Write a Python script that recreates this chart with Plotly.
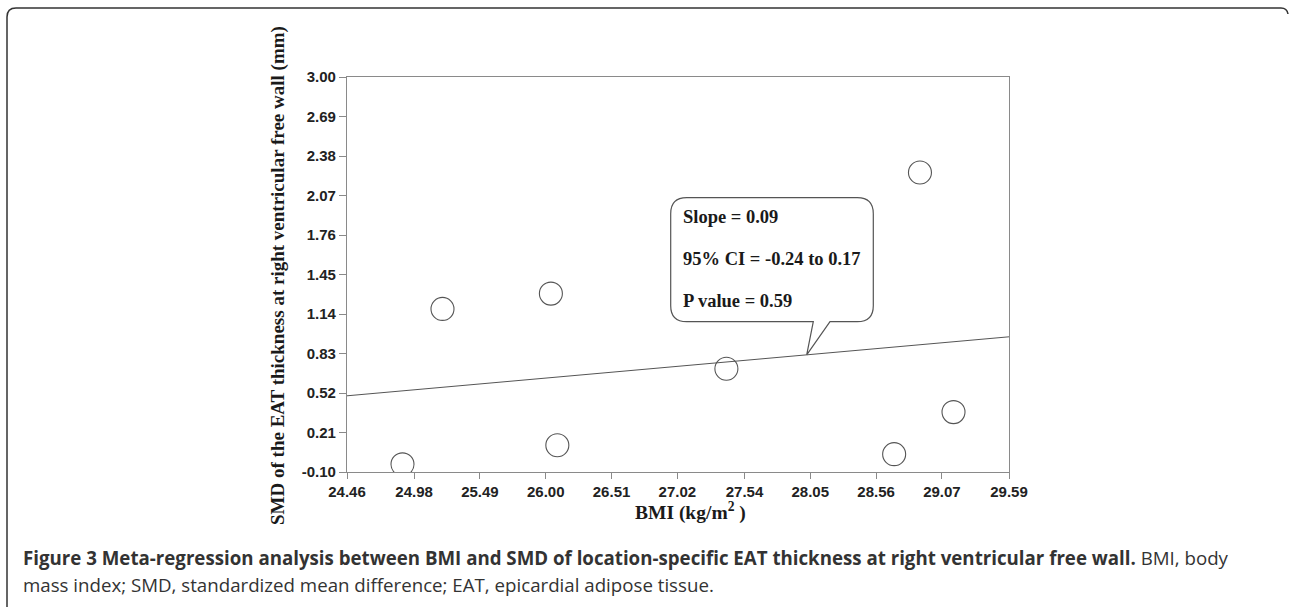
import plotly.graph_objects as go

# ---- data ----
bmi = [24.89, 25.20, 26.04, 26.09, 27.40, 28.70, 28.90, 29.16]
smd = [-0.04, 1.18, 1.30, 0.11, 0.71, 0.04, 2.25, 0.37]
fit_x = [24.46, 29.59]
fit_y = [0.498, 0.961]
x_ticks = [24.46, 24.98, 25.49, 26.00, 26.51, 27.02, 27.54, 28.05, 28.56, 29.07, 29.59]
y_ticks = [-0.10, 0.21, 0.52, 0.83, 1.14, 1.45, 1.76, 2.07, 2.38, 2.69, 3.00]
stats_lines = ["Slope = 0.09", "95% CI = -0.24 to 0.17", "P value = 0.59"]

W, H = 1289, 610
L, R, T, B = 347, 280, 77, 138
PW, PH = W - L - R, H - T - B
XR = [x_ticks[0], x_ticks[-1]]
YR = [y_ticks[0], y_ticks[-1]]

def px(x):  # pixel -> paper x
    return (x - L) / PW

def py(y):  # pixel -> paper y
    return (H - B - y) / PH

def dx(x):  # pixel -> data x
    return XR[0] + (x - L) / PW * (XR[1] - XR[0])

def dy(y):
    return YR[0] + (H - B - y) / PH * (YR[1] - YR[0])

fig = go.Figure()
fig.add_trace(go.Scatter(x=fit_x, y=fit_y, mode="lines",
                         line=dict(color="#555555", width=1), showlegend=False,
                         hoverinfo="skip"))
fig.add_trace(go.Scatter(x=bmi, y=smd, mode="markers",
                         marker=dict(symbol="circle-open", size=23, color="#555555",
                                     line=dict(width=1.1, color="#555555")),
                         showlegend=False))

axis_common = dict(showgrid=False, zeroline=False, showline=True, linecolor="#8a8a8a",
                   linewidth=1.3, mirror=True, ticks="outside", tickcolor="#8a8a8a",
                   tickwidth=1.3,
                   tickfont=dict(family="Liberation Sans, Arial", size=15, color="#222222",
                                 weight="bold"))
fig.update_xaxes(range=XR, tickvals=x_ticks, ticktext=[f"{v:.2f}" for v in x_ticks],
                 ticklen=6, **axis_common)
fig.update_yaxes(range=YR, tickvals=y_ticks, ticktext=[f"{v:.2f}" for v in y_ticks],
                 ticklen=7, **axis_common)

# callout box (rounded rectangle with tail) in data coords
bx0, bx1 = dx(670.7), dx(873.3)
by0, by1 = dy(321.7), dy(197.7)
rx, ry = dx(670.7 + 16) - bx0, dy(321.7 - 16) - by0
t1, t2 = dx(813.3), dx(830.0)
tip_x = dx(806.7)
tip_y = fit_y[0] + (fit_y[1] - fit_y[0]) * (tip_x - fit_x[0]) / (fit_x[1] - fit_x[0])
path = (f"M {bx0+rx},{by1} L {bx1-rx},{by1} Q {bx1},{by1} {bx1},{by1-ry} "
        f"L {bx1},{by0+ry} Q {bx1},{by0} {bx1-rx},{by0} "
        f"L {t2},{by0} L {tip_x},{tip_y} L {t1},{by0} "
        f"L {bx0+rx},{by0} Q {bx0},{by0} {bx0},{by0+ry} "
        f"L {bx0},{by1-ry} Q {bx0},{by1} {bx0+rx},{by1} Z")
fig.add_shape(type="path", path=path, xref="x", yref="y",
              line=dict(color="#555555", width=1.2), fillcolor="white", layer="above")

for txt, yp in zip(stats_lines, [216.7, 259.0, 301.0]):
    fig.add_annotation(x=dx(681.0), y=dy(yp), xref="x", yref="y", text=f"<b>{txt}</b>",
                       showarrow=False, xanchor="left", yanchor="middle",
                       font=dict(family="Liberation Serif, Times New Roman", size=18.5,
                                 color="#1a1a1a"))

# axis titles
fig.add_annotation(x=px(278), y=py(276), xref="paper", yref="paper", textangle=-90,
                   text="<b>SMD of the EAT thickness at right ventricular free wall (mm)</b>",
                   showarrow=False, xanchor="center", yanchor="middle",
                   font=dict(family="Liberation Serif, Times New Roman", size=19, color="#1a1a1a"))
fig.add_annotation(x=px(690), y=py(511), xref="paper", yref="paper",
                   text="<b>BMI (kg/m<sup>2</sup> )</b>",
                   showarrow=False, xanchor="center", yanchor="middle",
                   font=dict(family="Liberation Serif, Times New Roman", size=19.5, color="#1a1a1a"))

# caption
cap_font = dict(family="Open Sans", size=18.7, color="#333333")
fig.add_annotation(x=px(21), y=py(557), xref="paper", yref="paper", xanchor="left",
                   yanchor="middle", showarrow=False, font=cap_font,
                   text="<b>Figure 3 Meta-regression analysis between BMI and SMD of location-specific "
                        "EAT thickness at right ventricular free wall.</b> BMI, body")
fig.add_annotation(x=px(21), y=py(584), xref="paper", yref="paper", xanchor="left",
                   yanchor="middle", showarrow=False, font=cap_font,
                   text="mass index; SMD, standardized mean difference; EAT, epicardial adipose tissue.")

# outer frame
fx0, fy0, fr = 7, 8, 9
frame = (f"M {px(fx0)},{py(607)} L {px(fx0)},{py(fy0+fr)} "
         f"Q {px(fx0)},{py(fy0)} {px(fx0+fr)},{py(fy0)} "
         f"L {px(1281)},{py(fy0)} Q {px(1287)},{py(fy0)} {px(1288)},{py(fy0+6)}")
fig.add_shape(type="path", path=frame, xref="paper", yref="paper",
              line=dict(color="#333333", width=1.5))

fig.update_layout(width=W, height=H, autosize=False,
                  margin=dict(l=L, r=R, t=T, b=B),
                  plot_bgcolor="white", paper_bgcolor="white")

fig.write_html("out.html", config={"displayModeBar": False},
               post_script="document.body.style.margin='0px';document.body.style.padding='0px';")
